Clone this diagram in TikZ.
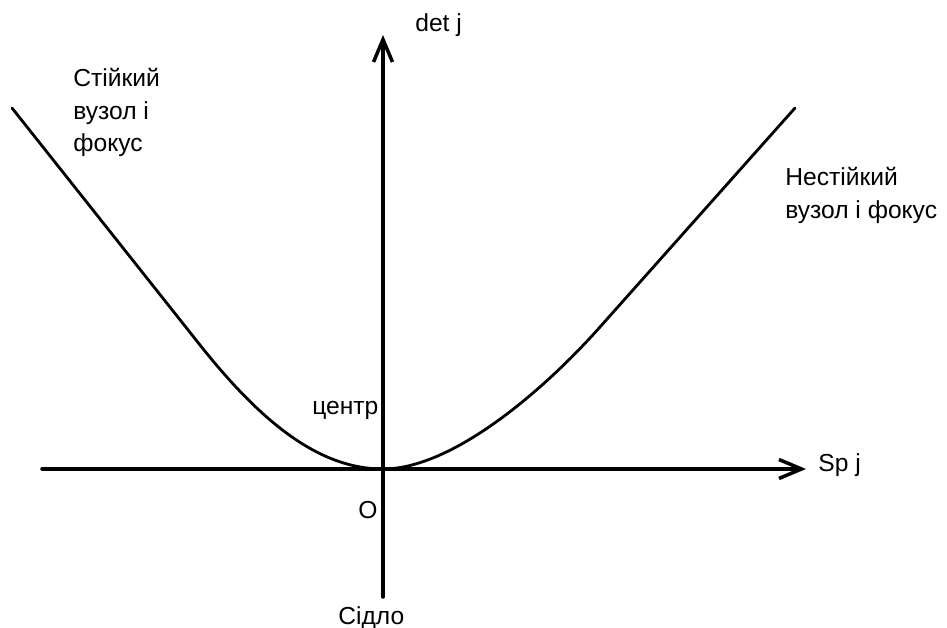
\documentclass[tikz,border=0pt]{standalone}
\usepackage{fontspec}
\setmainfont{Liberation Sans}
\usetikzlibrary{arrows.meta}
\begin{document}
\begin{tikzpicture}[>={Straight Barb[length=4.5mm,width=3.8mm]}, line join=round, line cap=round,
		lbl/.style={font=\fontsize{14}{18.5}\selectfont, inner sep=0pt}]
			\useasboundingbox (-7.66,-3.18) rectangle (11.28,9.38);
			\coordinate (O) at (0,0);
			\coordinate (xl) at (-6.82,0);
			\coordinate (xr) at (8.46,0);
			\coordinate (yb) at (0,-2.56);
			\coordinate (yt) at (0,8.68);
			\draw[->, line width=2pt] (xl)--(xr);
			\draw[->, line width=2pt] (yb)--(yt);
			\node[lbl, anchor=base west] (spj) at (8.7,-0.04) {Sp j};
			\node[lbl, anchor=base west] (detj) at (0.64,8.74) {det j};
			\node[lbl, anchor=base west] (orig) at (-0.5,-0.98) {О};
			\node[lbl, anchor=base west] (centr) at (-1.42,1.08) {центр};
			\node[lbl, anchor=base west] (sidlo) at (-0.9,-3.1) {Сідло};
			\node[lbl, anchor=north west, align=left] (stable) at (-6.2,8.02) {Стійкий\\вузол і\\фокус};
			\node[lbl, anchor=north west, align=left] (unstable) at (8.04,6.04) {Нестійкий\\вузол і фокус};
			% boundary curve
			\draw[line width=1.6pt] (-7.42,7.22) -- (-3.66,2.48) .. controls (-2.46,0.97) and (-1.3,0) .. (O)
				.. controls (1.4,0) and (3.24,1.6) .. (4.34,2.84) -- (8.24,7.22);
		\end{tikzpicture}
\end{document}
